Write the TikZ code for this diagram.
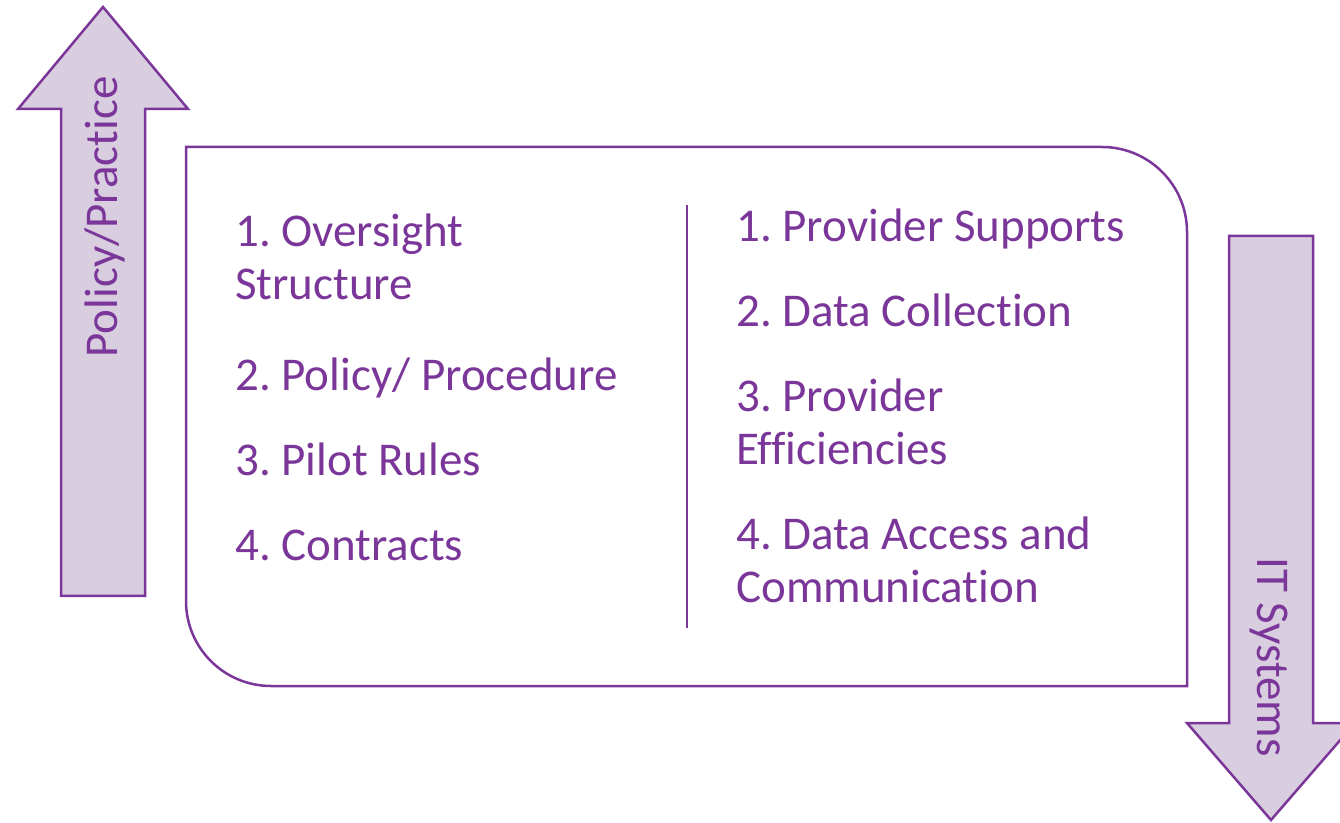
\documentclass[tikz,border=0pt]{standalone}
\usepackage{fontspec}
\setmainfont[Ligatures=NoCommon]{Carlito}
\frenchspacing
\definecolor{pur}{HTML}{7B3699}
\definecolor{lpur}{HTML}{D9CEE0}
\tikzset{
  item/.style={anchor=base west, inner sep=0pt, text=pur, font=\fontsize{47}{56}\selectfont},
  side/.style={inner sep=0pt, text=pur, font=\fontsize{47}{56}\selectfont},
  outl/.style={draw=pur, line width=2.5pt, line join=miter},
  bigarrow/.style={outl, fill=lpur}
}
\begin{document}
\begin{tikzpicture}[x=1pt,y=1pt]
\useasboundingbox (0,0) rectangle (1340,822);
\clip (0,0) rectangle (1340,822);
% up arrow
\draw[bigarrow] (61,226) -- (61,713) -- (18,713) -- (103,815) -- (188,713) -- (145,713) -- (145,226) -- cycle;
% down arrow
\draw[bigarrow] (1229,586) -- (1229,99) -- (1187,99) -- (1271,2) -- (1355,99) -- (1313,99) -- (1313,586) -- cycle;
\node[side, rotate=90] (pp) at (105,605) {Policy/Practice};
\node[side, rotate=-90] (it) at (1269,165) {IT Systems};
% main box
\draw[outl, fill=white] (186,675) -- (1102,675) arc[start angle=90, end angle=0, radius=85] -- (1187,136) -- (271,136) arc[start angle=270, end angle=180, radius=85] -- cycle;
% divider
\coordinate (dt) at (687,617);
\coordinate (db) at (687,194);
\draw[draw=pur, line width=1.5pt] (dt) -- (db);
% left column
\node[item] (l1a) at (235,575) {1. Oversight};
\node[item] (l1b) at (235,522) {Structure};
\node[item] (l2) at (235,431) {2. Policy/ Procedure};
\node[item] (l3) at (235,346) {3. Pilot Rules};
\node[item] (l4) at (235,261) {4. Contracts};
% right column
\node[item] (r1) at (736,580) {1. Provider Supports};
\node[item] (r2) at (736,495) {2. Data Collection};
\node[item] (r3a) at (736,410) {3. Provider};
\node[item] (r3b) at (736,357) {Efficiencies};
\node[item] (r4a) at (736,272) {4. Data Access and};
\node[item] (r4b) at (736,219) {Communication};
\end{tikzpicture}
\end{document}
